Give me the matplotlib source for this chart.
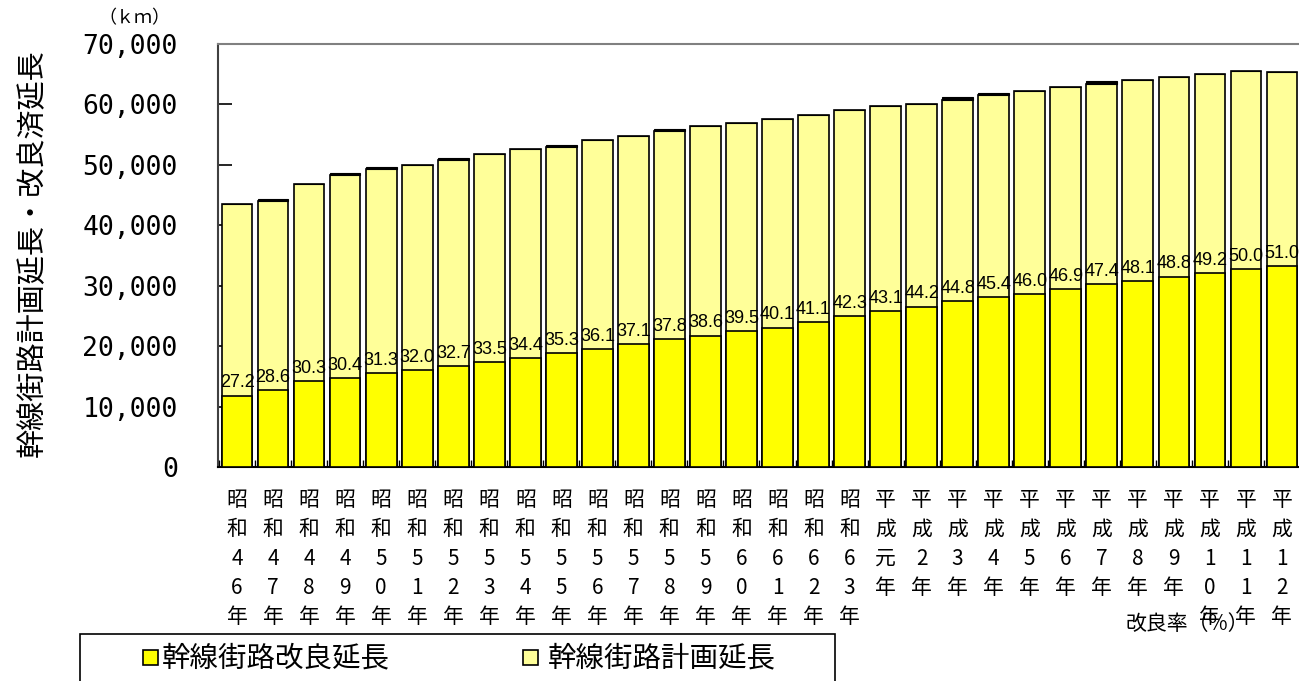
import numpy as np
import matplotlib.pyplot as plt
from matplotlib.patches import Rectangle

# data
years = ["昭和46年", "昭和47年", "昭和48年", "昭和49年", "昭和50年", "昭和51年",
         "昭和52年", "昭和53年", "昭和54年", "昭和55年", "昭和56年", "昭和57年",
         "昭和58年", "昭和59年", "昭和60年", "昭和61年", "昭和62年", "昭和63年",
         "平成元年", "平成2年", "平成3年", "平成4年", "平成5年", "平成6年",
         "平成7年", "平成8年", "平成9年", "平成10年", "平成11年", "平成12年"]
plan_len = [43500, 43950, 46850, 48250, 49300, 50050, 50750, 51850, 52600, 53000,
            54150, 54850, 55550, 56350, 56850, 57550, 58300, 59100, 59800, 60100,
            60800, 61550, 62300, 62850, 63450, 64050, 64600, 65100, 65550, 65300]
top_part = [0, 350, 0, 350, 350, 0, 350, 0, 0, 350,
            0, 0, 350, 0, 0, 0, 0, 0, 0, 0,
            350, 350, 0, 0, 350, 0, 0, 0, 0, 0]
improved_len = [11830, 12670, 14200, 14770, 15540, 16020, 16710, 17370, 18090, 18830,
                19550, 20350, 21130, 21750, 22460, 23080, 23960, 25000, 25770, 26560,
                27400, 28100, 28660, 29480, 30240, 30810, 31520, 32030, 32780, 33300]
rate = [27.2, 28.6, 30.3, 30.4, 31.3, 32.0, 32.7, 33.5, 34.4, 35.3,
        36.1, 37.1, 37.8, 38.6, 39.5, 40.1, 41.1, 42.3, 43.1, 44.2,
        44.8, 45.4, 46.0, 46.9, 47.4, 48.1, 48.8, 49.2, 50.0, 51.0]

jp = ["Noto Sans CJK JP", "DejaVu Sans"]
W, H = 1299, 681

fig = plt.figure(figsize=(W / 100, H / 100), dpi=100)
ax = fig.add_axes([218 / W, 1 - 467 / H, (1301 - 218) / W, (467 - 44) / H])

x = np.arange(len(years))
ax.bar(x, plan_len, width=0.85, color="#FFFF99", edgecolor="black", linewidth=1.2, zorder=2)
ax.bar(x, top_part, bottom=plan_len, width=0.85, color="black", edgecolor="black", linewidth=0.8, zorder=2)
ax.bar(x, improved_len, width=0.85, color="#FFFF00", edgecolor="black", linewidth=1.2, zorder=3)

for i, r in enumerate(rate):
    ax.annotate(f"{r:.1f}", (x[i], improved_len[i]), xytext=(0, 3), textcoords="offset points",
                ha="center", va="bottom", fontsize=13,
                family=["Liberation Sans Narrow", "Liberation Sans"], zorder=4)

ax.set_xlim(-0.53, len(years) - 0.47)
ax.set_ylim(0, 70000)

yt = np.arange(0, 70001, 10000)
ax.set_yticks(yt)
ax.set_yticklabels([f"{v:,}" for v in yt], fontsize=19, family="DejaVu Sans Mono")
ax.tick_params(axis="y", direction="in", length=10, width=1.2, pad=29)

ax.set_xticks(x)
ax.set_xticklabels(["\n".join(s) for s in years], fontsize=15, family=jp, linespacing=1.42)
ax.tick_params(axis="x", which="major", length=0, pad=16)
ax.set_xticks(np.arange(-0.5, len(years), 1), minor=True)
ax.tick_params(axis="x", which="minor", direction="in", length=5, width=1)

ax.spines["top"].set_color("#808080")
ax.spines["top"].set_linewidth(1.5)
ax.spines["left"].set_color("#404040")
ax.spines["left"].set_linewidth(1.5)
ax.spines["bottom"].set_linewidth(1.5)
ax.spines["right"].set_visible(False)

fig.text(33 / W, 1 - 253 / H, "幹線街路計画延長・改良済延長", rotation=90,
         ha="center", va="center", fontsize=21, family=jp)
fig.text(134 / W, 1 - 18 / H, "（ｋｍ）", ha="center", va="center", fontsize=13, family=jp)
fig.text(1187 / W, 1 - 624 / H, "改良率（%）", ha="center", va="center", fontsize=15, family=jp)

# legend box
fig.add_artist(Rectangle((80 / W, -0.05), (835 - 80) / W, 1 - 634 / H + 0.05,
                         transform=fig.transFigure, fill=False, edgecolor="black", linewidth=1.2))
fig.add_artist(Rectangle((143 / W, 1 - 665 / H), 15 / W, 15 / H, transform=fig.transFigure,
                         facecolor="#FFFF00", edgecolor="black", linewidth=1.2))
fig.text(162 / W, 1 - 658 / H, "幹線街路改良延長", ha="left", va="center", fontsize=20.5, family=jp)
fig.add_artist(Rectangle((523 / W, 1 - 665 / H), 15 / W, 15 / H, transform=fig.transFigure,
                         facecolor="#FFFF99", edgecolor="black", linewidth=1.2))
fig.text(548 / W, 1 - 658 / H, "幹線街路計画延長", ha="left", va="center", fontsize=20.5, family=jp)

fig.savefig("out.png", dpi=100)
